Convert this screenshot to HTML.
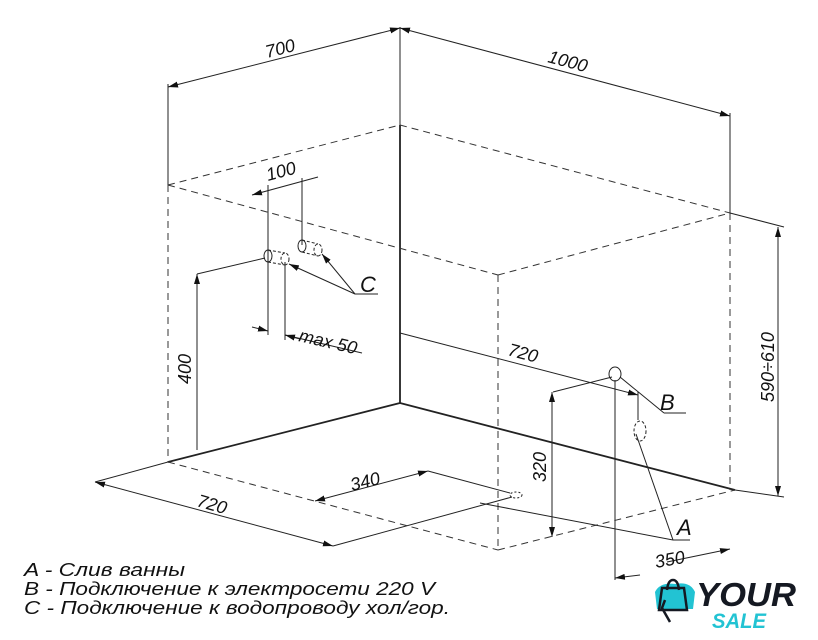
<!DOCTYPE html>
<html><head><meta charset="utf-8"><style>
html,body{margin:0;padding:0;background:#fff;width:818px;height:640px;overflow:hidden}
svg{display:block}
text{font-family:"Liberation Sans","DejaVu Sans",sans-serif;font-style:italic;fill:#111}
</style></head><body>
<svg width="818" height="640" viewBox="0 0 818 640" xmlns="http://www.w3.org/2000/svg">
<defs>
<marker id="a" viewBox="0 0 10 6" refX="10" refY="3" markerWidth="10" markerHeight="6" orient="auto-start-reverse" markerUnits="userSpaceOnUse"><path d="M0,0 L10,3 L0,6 z" fill="#111"/></marker>
</defs>
<g stroke="#222" stroke-width="1" fill="none">
<line x1="168" y1="84" x2="168" y2="185"/>
<line x1="400" y1="27" x2="400" y2="125"/>
<line x1="730" y1="113" x2="730" y2="213"/>
<line x1="168" y1="87" x2="400" y2="28" marker-start="url(#a)" marker-end="url(#a)"/>
<line x1="400" y1="28" x2="730" y2="116" marker-start="url(#a)" marker-end="url(#a)"/>
<line x1="400" y1="125" x2="400" y2="403" stroke-width="1.8"/>
<line x1="400" y1="403" x2="168" y2="462" stroke-width="1.8"/>
<line x1="400" y1="403" x2="735" y2="490" stroke-width="1.8"/>
</g>
<g stroke="#333" stroke-width="1" fill="none" stroke-dasharray="7,5">
<line x1="168" y1="185" x2="400" y2="125"/>
<line x1="400" y1="125" x2="730" y2="213"/>
<line x1="168" y1="185" x2="498" y2="275"/>
<line x1="498" y1="275" x2="730" y2="213"/>
<line x1="168" y1="185" x2="168" y2="462"/>
<line x1="730" y1="213" x2="730" y2="490"/>
<line x1="498" y1="275" x2="498" y2="550"/>
<line x1="168" y1="462" x2="498" y2="550"/>
<line x1="498" y1="550" x2="735" y2="490"/>
</g>
<g stroke="#222" stroke-width="1" fill="none">
<line x1="730" y1="213" x2="784" y2="227"/>
<line x1="735" y1="490" x2="784" y2="497"/>
<line x1="778" y1="227" x2="778" y2="496" marker-start="url(#a)" marker-end="url(#a)"/>
<line x1="252" y1="195" x2="318" y2="177" marker-start="url(#a)"/>
<line x1="268" y1="185" x2="268" y2="335"/>
<line x1="302" y1="178" x2="302" y2="245"/>
<ellipse cx="268" cy="256" rx="4" ry="6"/>
<ellipse cx="285" cy="259" rx="4" ry="6" stroke-dasharray="3,2"/>
<line x1="268" y1="250" x2="285" y2="253" stroke-dasharray="3,2"/>
<line x1="268" y1="262" x2="285" y2="265" stroke-dasharray="3,2"/>
<ellipse cx="302" cy="246" rx="4" ry="6"/>
<ellipse cx="318" cy="250" rx="4" ry="6" stroke-dasharray="3,2"/>
<line x1="302" y1="240" x2="318" y2="244" stroke-dasharray="3,2"/>
<line x1="302" y1="252" x2="318" y2="256" stroke-dasharray="3,2"/>
<line x1="285" y1="262" x2="285" y2="340"/>
<line x1="355" y1="294" x2="289" y2="264" marker-end="url(#a)"/>
<line x1="355" y1="294" x2="322" y2="254" marker-end="url(#a)"/>
<line x1="355" y1="294" x2="378" y2="294"/>
<line x1="197" y1="274" x2="265" y2="258"/>
<line x1="197" y1="450" x2="197" y2="274" marker-end="url(#a)"/>
<line x1="252" y1="327" x2="268" y2="331" marker-end="url(#a)"/>
<line x1="285" y1="335" x2="362" y2="353"/>
<line x1="300" y1="339" x2="285" y2="335" marker-end="url(#a)"/>
<line x1="400" y1="333" x2="638" y2="395" marker-end="url(#a)"/>
<line x1="638" y1="392" x2="638" y2="420"/>
<ellipse cx="615" cy="374" rx="6" ry="7"/>
<line x1="553" y1="392" x2="612" y2="377"/>
<line x1="615" y1="380" x2="615" y2="580"/>
<line x1="552" y1="392" x2="552" y2="537" marker-start="url(#a)" marker-end="url(#a)"/>
<line x1="620" y1="377" x2="664" y2="413"/>
<line x1="664" y1="413" x2="686" y2="413"/>
<ellipse cx="640" cy="431" rx="6" ry="10" stroke-dasharray="3,2"/>
<line x1="636" y1="434" x2="673" y2="540"/>
<ellipse cx="516" cy="495" rx="6" ry="3" stroke-dasharray="2,2"/>
<line x1="480" y1="503" x2="673" y2="540"/>
<line x1="673" y1="540" x2="690" y2="540"/>
<line x1="615" y1="578" x2="640" y2="575" marker-start="url(#a)"/>
<line x1="667" y1="562" x2="730" y2="549" marker-end="url(#a)"/>
<line x1="168" y1="462" x2="95" y2="482"/>
<line x1="95" y1="482" x2="333" y2="546" marker-start="url(#a)" marker-end="url(#a)"/>
<line x1="333" y1="546" x2="512" y2="497"/>
<line x1="315" y1="501" x2="428" y2="471" marker-start="url(#a)" marker-end="url(#a)"/>
<line x1="428" y1="471" x2="510" y2="493"/>
</g>
<g font-size="18">
<text x="267" y="58" transform="rotate(-14 267 58)">700</text>
<text x="547" y="62" transform="rotate(15 547 62)">1000</text>
<text x="268" y="181" transform="rotate(-15 268 181)">100</text>
<text x="360" y="292" font-size="22">C</text>
<text x="298" y="341" transform="rotate(13 298 341)">max 50</text>
<text x="191" y="384" transform="rotate(-90 191 384)">400</text>
<text x="507" y="355" transform="rotate(15 507 355)">720</text>
<text x="660" y="410" font-size="22">B</text>
<text x="774" y="402" transform="rotate(-90 774 402)">590÷610</text>
<text x="546" y="482" transform="rotate(-90 546 482)">320</text>
<text x="352" y="491" transform="rotate(-14 352 491)">340</text>
<text x="196" y="506" transform="rotate(16 196 506)">720</text>
<text x="677" y="535" font-size="22">A</text>
<text x="656" y="568" transform="rotate(-10 656 568)">350</text>
</g>
<g font-size="18">
<text x="24" y="576" textLength="161" lengthAdjust="spacingAndGlyphs">A - Слив ванны</text>
<text x="24" y="595" textLength="411" lengthAdjust="spacingAndGlyphs">B - Подключение к электросети 220 V</text>
<text x="24" y="614" textLength="426" lengthAdjust="spacingAndGlyphs">С - Подключение к водопроводу хол/гор.</text>
</g>
<g>
<path d="M655 592 q5-10 20-8 q15-3 20 8 l-2 17 h-36 z" fill="#22c3d3"/>
<path d="M662 588 h22 l3 22 h-28 z" fill="none" stroke="#151922" stroke-width="2.5"/>
<path d="M667 590 q1-10 6-10 q5 0 6 10" fill="none" stroke="#151922" stroke-width="2.5"/>
<path d="M665 600 l-3 8 l8 14" fill="none" stroke="#151922" stroke-width="2.5"/>
<text x="696" y="606" font-size="33" font-weight="bold" font-style="normal" style="fill:#151922" textLength="100" lengthAdjust="spacingAndGlyphs">YOUR</text>
<text x="712" y="628" font-size="21" font-weight="bold" font-style="normal" style="fill:#22c3d3" textLength="54" lengthAdjust="spacingAndGlyphs">SALE</text>
</g>
</svg>
</body></html>
